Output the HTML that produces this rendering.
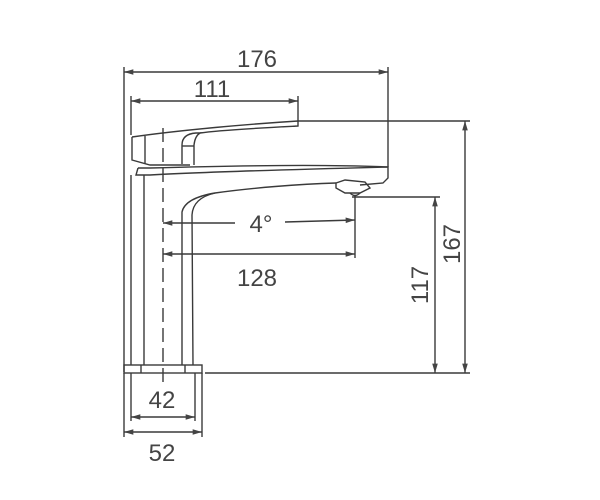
<!DOCTYPE html>
<html><head><style>html,body{margin:0;padding:0;background:#fff}svg{display:block}</style></head>
<body>
<svg width="600" height="500" viewBox="0 0 600 500" xmlns="http://www.w3.org/2000/svg">
<defs>
<marker id="a" viewBox="0 0 10 6" refX="10" refY="3" markerWidth="8" markerHeight="4" orient="auto-start-reverse"><path d="M0,0L10,3L0,6z" fill="#444"/></marker>
</defs>
<g stroke="#3a3a3a" stroke-width="1.4" fill="none">
<line x1="124" y1="67" x2="124" y2="372"/>
<line x1="388" y1="67" x2="388" y2="167"/>
<line x1="131" y1="96" x2="131" y2="135"/>
<line x1="298" y1="96" x2="298" y2="121"/>
<line x1="298" y1="121" x2="470" y2="121"/>
<line x1="352" y1="197" x2="440" y2="197"/>
<line x1="205" y1="373" x2="470" y2="373"/>
<line x1="124" y1="72" x2="388" y2="72" marker-start="url(#a)" marker-end="url(#a)"/>
<line x1="131" y1="101" x2="298" y2="101" marker-start="url(#a)" marker-end="url(#a)"/>
<line x1="465" y1="121" x2="465" y2="373" marker-start="url(#a)" marker-end="url(#a)"/>
<line x1="435" y1="197" x2="435" y2="373" marker-start="url(#a)" marker-end="url(#a)"/>
<line x1="163" y1="254" x2="355" y2="254" marker-start="url(#a)" marker-end="url(#a)"/>
<line x1="131" y1="417" x2="195" y2="417" marker-start="url(#a)" marker-end="url(#a)"/>
<line x1="124" y1="432" x2="202" y2="432" marker-start="url(#a)" marker-end="url(#a)"/>
<line x1="124" y1="373" x2="124" y2="437"/>
<line x1="202" y1="373" x2="202" y2="437"/>
<line x1="131" y1="373" x2="131" y2="421"/>
<line x1="195" y1="373" x2="195" y2="421"/>
<line x1="163" y1="223" x2="235" y2="223" marker-start="url(#a)"/>
<line x1="285" y1="222" x2="355" y2="220" marker-end="url(#a)"/>
<line x1="355" y1="195" x2="355" y2="258"/>
<line x1="163" y1="128" x2="163" y2="382" stroke-dasharray="14,6"/>
<path d="M132,137 C180,130 250,124 298,121 L298,126 C260,128 220,130 200,133"/>
<path d="M132,137 L132,160 L150,165 L190,165"/>
<line x1="145" y1="136" x2="145" y2="164"/>
<path d="M182,164 L182,145 Q182,134 196,133 L200,133 Q195,136 194,145 L194,165"/>
<line x1="182" y1="146" x2="194" y2="146"/>
<path d="M138,168 L150,168 C220,166 320,164 388,167 L388,178 L383,183 L360,185"/>
<path d="M138,168 L136,175 L150,175 C200,172 270,170 388,167"/>
<path d="M336,183 C300,184 250,188 215,193 Q193,198 192,215 L193,365"/>
<path d="M336,183 L345,180 L365,182 L370,188 L360,193 L345,193 L336,188 Z"/>
<path d="M350,193 Q355,198 360,193"/>
<path d="M215,193 Q185,198 182,212 L182,365"/>
<line x1="131" y1="175" x2="131" y2="365"/>
<line x1="144" y1="175" x2="144" y2="365"/>
<rect x="124" y="365" width="78" height="8"/>
<line x1="141" y1="365" x2="141" y2="373"/>
<line x1="185" y1="365" x2="185" y2="373"/>
</g>
<g font-family="Liberation Sans, sans-serif" font-size="24" fill="#444" text-anchor="middle">
<text x="257" y="67">176</text>
<text x="212" y="97">111</text>
<text x="261" y="232">4°</text>
<text x="257" y="286">128</text>
<text x="162" y="408">42</text>
<text x="162" y="461">52</text>
<text transform="translate(428,285) rotate(-90)">117</text>
<text transform="translate(460,244) rotate(-90)">167</text>
</g>
</svg>
</body></html>
